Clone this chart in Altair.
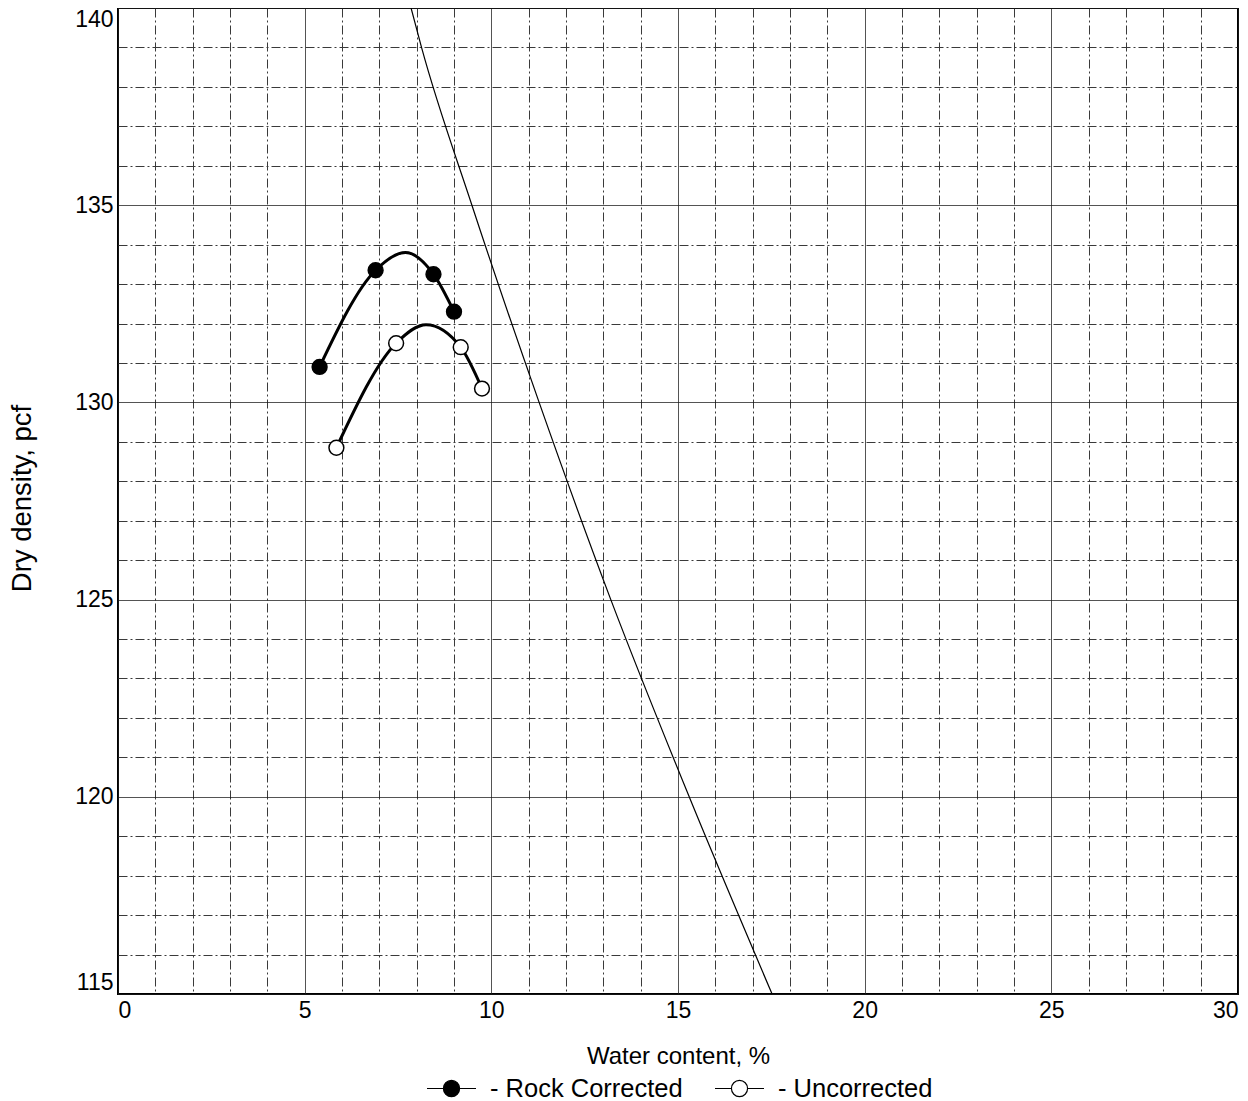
import altair as alt
import pandas as pd

# Measured points (water content %, dry density pcf)
rock_w = [5.4, 6.9, 8.45, 9.0]
rock_d = [130.9, 133.35, 133.25, 132.3]
unc_w = [5.85, 7.45, 9.18, 9.75]
unc_d = [128.85, 131.5, 131.4, 130.35]

# Fitted curves (through the points and their peaks)
rock_curve_w = [5.4, 6.9, 7.7, 8.45, 9.0]
rock_curve_d = [130.9, 133.35, 133.8, 133.25, 132.3]
unc_curve_w = [5.85, 7.45, 8.25, 9.18, 9.75]
unc_curve_d = [128.85, 131.5, 131.97, 131.4, 130.35]

# Zero-air-voids line
zav_w = [7.85, 8.13, 9.48, 11.28, 13.2, 15.3, 17.52]
zav_d = [140, 139, 135, 130, 125, 120, 115]

x_grid = list(range(0, 31))
y_grid = list(range(115, 141))

series_names = ["- Rock Corrected", "- Uncorrected"]

pts = pd.DataFrame({
    "w": rock_w + unc_w,
    "d": rock_d + unc_d,
    "series": [series_names[0]] * len(rock_w) + [series_names[1]] * len(unc_w),
})
curves = pd.DataFrame({
    "w": rock_curve_w + unc_curve_w,
    "d": rock_curve_d + unc_curve_d,
    "series": [series_names[0]] * len(rock_curve_w) + [series_names[1]] * len(unc_curve_w),
})
zav = pd.DataFrame({"w": zav_w, "d": zav_d})

FONT = "Liberation Sans"
minor_dash = [9, 3, 2, 3]

common_axis = dict(
    grid=True,
    gridColor=alt.condition("datum.value % 5 === 0", alt.value("#1a1a1a"), alt.value("#3a3a3a")),
    gridDash=alt.condition("datum.value % 5 === 0", alt.value([1, 0]), alt.value(minor_dash)),
    gridWidth=1,
    ticks=False,
    domain=False,
    format="d",
    labelExpr="datum.value % 5 === 0 ? datum.label : ''",
    labelOverlap=False,
    labelFontSize=23,
    labelFont=FONT,
    labelColor="black",
    labelFlush=True,
    titleFont=FONT,
    titleFontWeight="normal",
    titleColor="black",
    titleAlign="center",
    titleBaseline="middle",
    tickCount=60,
)

x_enc = alt.X(
    "w:Q",
    scale=alt.Scale(domain=[0, 30], nice=False, zero=False),
    axis=alt.Axis(
        title="Water content, %",
        values=x_grid,
        labelPadding=5,
        titleFontSize=24,
        titleX=560,
        titleY=62,
        **common_axis,
    ),
)
y_enc = alt.Y(
    "d:Q",
    scale=alt.Scale(domain=[115, 140], nice=False, zero=False),
    axis=alt.Axis(
        title="Dry density, pcf",
        values=y_grid,
        labelPadding=5,
        titleFontSize=27.5,
        titleAngle=-90,
        titleX=-96,
        titleY=490,
        **common_axis,
    ),
)

zav_line = alt.Chart(zav).mark_line(color="black", strokeWidth=1.2, interpolate="monotone").encode(
    x=x_enc, y=y_enc, order="w:Q"
)

curve_lines = alt.Chart(curves).mark_line(color="black", strokeWidth=3, interpolate="monotone").encode(
    x="w:Q", y="d:Q", detail="series:N"
)

legend_path = (
    "M-1,0L-0.33,0M0.33,0L1,0"
    "M0.33,0A0.33,0.33,0,1,1,-0.33,0A0.33,0.33,0,1,1,0.33,0Z"
)

points = alt.Chart(pts).mark_point(
    shape="circle", size=220, filled=True, stroke="black", strokeWidth=1.5, opacity=1
).encode(
    x="w:Q",
    y="d:Q",
    fill=alt.Fill(
        "series:N",
        scale=alt.Scale(domain=series_names, range=["black", "white"]),
        legend=alt.Legend(
            title=None,
            orient="none",
            legendX=308,
            legendY=1055,
            direction="horizontal",
            columns=2,
            symbolType=legend_path,
            symbolSize=2400,
            symbolStrokeColor="black",
            symbolStrokeWidth=1.2,
            labelFont=FONT,
            labelFontSize=25.5,
            labelColor="black",
            labelOffset=13,
            columnPadding=29,
            labelLimit=400,
        ),
    ),
)

chart = alt.layer(zav_line, curve_lines, points).properties(
    width=1120,
    height=986,
    padding={"left": 110, "top": 0, "right": 2, "bottom": 105},
    autosize=alt.AutoSizeParams(type="none"),
    background="white",
).configure_view(
    stroke="black", strokeWidth=2
)

chart.save("out.html", embed_options={"renderer": "svg", "actions": False})
